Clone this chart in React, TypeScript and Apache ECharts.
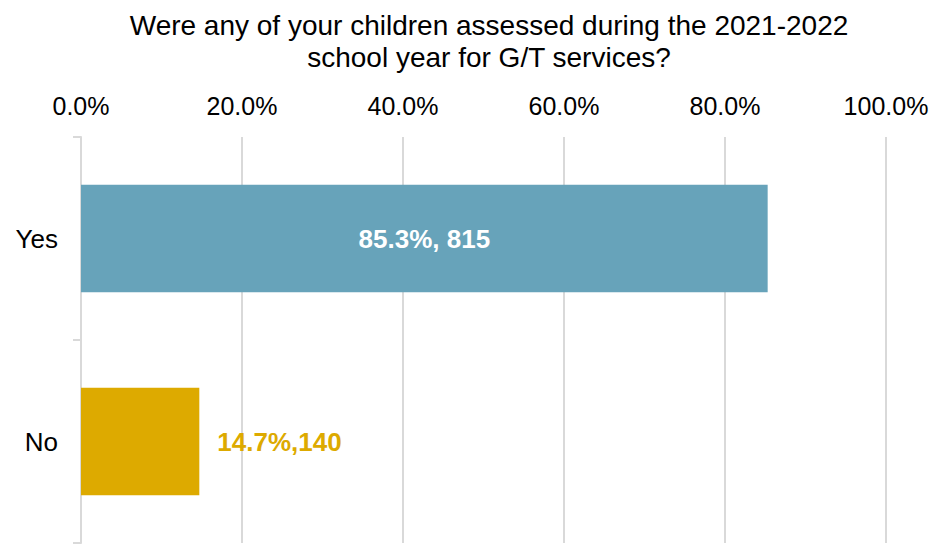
import React, { useEffect, useRef } from "react";
import * as echarts from "echarts";

const categories = ["Yes", "No"];
const percents = [0.853, 0.147];
const counts = [815, 140];
const labelTexts = ["85.3%, 815", "14.7%,140"];
const barColors = ["#67A3BA", "#DDAA00"];
const xTicks = [0, 0.2, 0.4, 0.6, 0.8, 1.0];

export default function App() {
  const ref = useRef<HTMLDivElement>(null);
  useEffect(() => {
    const chart = echarts.init(ref.current!, null, { renderer: "svg" });
    const font = "Liberation Sans, Arial, sans-serif";
    chart.setOption({
      animation: false,
      title: {
        text: "Were any of your children assessed during the 2021-2022\nschool year for G/T services?",
        left: 484,
        textAlign: "center",
        top: 4,
        textStyle: { fontFamily: font, fontSize: 28, fontWeight: "normal", color: "#000", lineHeight: 32 },
      },
      grid: { left: 81, right: 49, top: 137, bottom: 1, containLabel: false },
      xAxis: {
        type: "value",
        position: "top",
        min: xTicks[0],
        max: xTicks[xTicks.length - 1],
        interval: 0.2,
        axisLine: { show: false },
        axisTick: { show: false },
        axisLabel: {
          fontFamily: font,
          fontSize: 25,
          color: "#000",
          margin: 19,
          formatter: (v: number) => (v * 100).toFixed(1) + "%",
        },
        splitLine: { show: true, lineStyle: { color: "#D9D9D9", width: 2 } },
      },
      yAxis: {
        type: "category",
        inverse: true,
        data: categories,
        axisLine: { show: true, lineStyle: { color: "#D9D9D9", width: 2 } },
        axisTick: { show: true, length: 8, lineStyle: { color: "#D9D9D9", width: 2 } },
        axisLabel: { fontFamily: font, fontSize: 26, color: "#000", margin: 23 },
      },
      series: [
        {
          type: "bar",
          barWidth: "53%",
          data: percents.map((p, i) => ({
            value: p,
            count: counts[i],
            itemStyle: { color: barColors[i] },
            label: i === 0
              ? { show: true, position: "inside", formatter: labelTexts[i], color: "#fff", fontWeight: "bold", fontSize: 26, fontFamily: font }
              : { show: true, position: "right", distance: 18, formatter: labelTexts[i], color: barColors[i], fontWeight: "bold", fontSize: 26, fontFamily: font },
          })),
        },
      ],
    });
    return () => chart.dispose();
  }, []);
  return <div ref={ref} style={{ width: 935, height: 544, position: "absolute", left: 0, top: 0 }} />;
}
